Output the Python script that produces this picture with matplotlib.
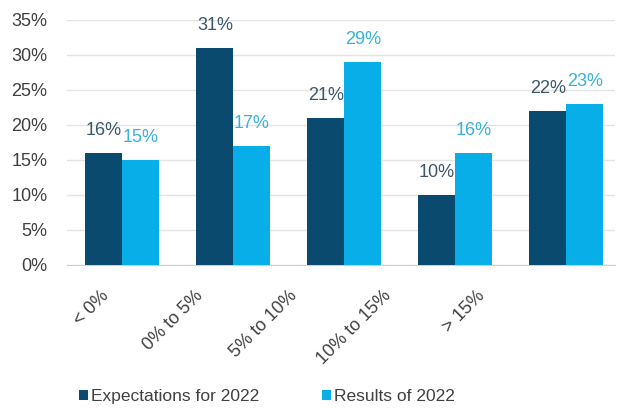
import matplotlib.pyplot as plt
import numpy as np

plt.rcParams["font.family"] = ["Liberation Sans", "DejaVu Sans"]

# data
categories = ["< 0%", "0% to 5%", "5% to 10%", "10% to 15%", "> 15%"]
expectations = [16, 31, 21, 10, 22]
results = [15, 17, 29, 16, 23]
series_names = ["Expectations for 2022", "Results of 2022"]

dark = "#0a4a6e"
light = "#07aee8"

fig = plt.figure(figsize=(6.2, 4.08), dpi=100)
ax = fig.add_axes([0.108, 0.3505, 0.884, 0.6005])

x = np.arange(len(categories))
w = 0.333

b1 = ax.bar(x - w / 2, expectations, w, color=dark, label=series_names[0], zorder=3)
b2 = ax.bar(x + w / 2, results, w, color=light, label=series_names[1], zorder=3)

# value labels above each bar
for bar, v in zip(b1, expectations):
    ax.annotate(f"{v}%", (bar.get_x() + bar.get_width() / 2, v),
                xytext=(0, 10), textcoords="offset points",
                ha="center", va="bottom", fontsize=13, color="#3b5768")
for bar, v in zip(b2, results):
    ax.annotate(f"{v}%", (bar.get_x() + bar.get_width() / 2, v),
                xytext=(0, 10), textcoords="offset points",
                ha="center", va="bottom", fontsize=13, color="#38b2da")

ax.set_ylim(0, 35)
ax.set_xlim(-0.5, 4.44)
ax.set_yticks(range(0, 36, 5))
ax.set_yticklabels([f"{t}%" for t in range(0, 36, 5)], fontsize=13, color="#404040")
ax.grid(axis="y", color="#e4e4e4", linewidth=1, zorder=0)

# category labels sit a bit left of the groups, spaced tighter than the bars
label_pos = x * 0.847 - 0.2
ax.set_xticks(label_pos)
ax.set_xticklabels(categories, rotation=45, ha="right", va="top",
                   rotation_mode="anchor", fontsize=13, color="#404040")

ax.tick_params(axis="both", length=0)
ax.tick_params(axis="y", pad=14)
ax.tick_params(axis="x", pad=16)
for side in ["top", "right", "left"]:
    ax.spines[side].set_visible(False)
ax.spines["bottom"].set_color("#d0d0d0")

fig.legend(handles=[b1, b2], labels=series_names, loc="center",
           bbox_to_anchor=(0.431, 0.027), ncol=2, frameon=False, fontsize=12.5,
           handlelength=0.5, handleheight=0.5, handletextpad=0.2,
           columnspacing=3.6, labelcolor="#404040")

fig.savefig("out.png", dpi=100)
